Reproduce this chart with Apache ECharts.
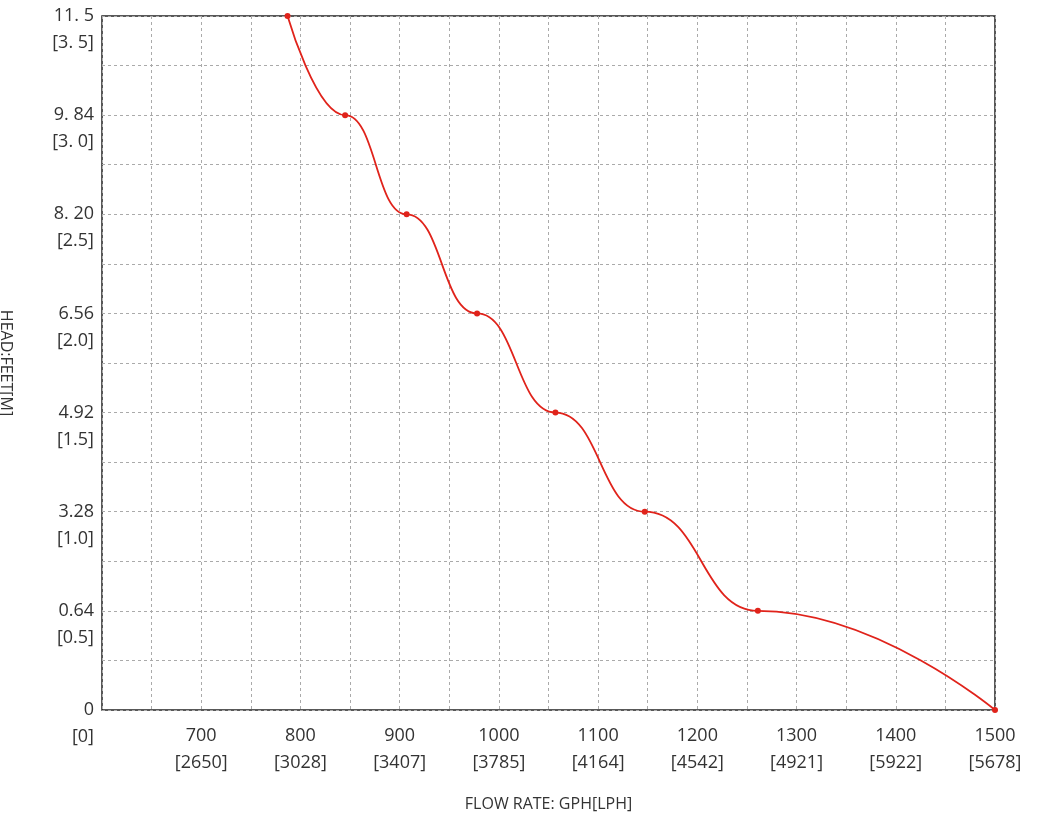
<!DOCTYPE html>
<html><head><meta charset="utf-8">
<script src="https://cdn.jsdelivr.net/npm/echarts@6/dist/echarts.min.js"></script>
<style>html,body{margin:0;padding:0;background:#fff}#c{width:1040px;height:819px}</style>
</head><body><div id="c"></div>
<script>
const flowGPH = [787, 845, 907, 978, 1057, 1147, 1261, 1500];
const headM = [3.5, 3.0, 2.5, 2.0, 1.5, 1.0, 0.5, 0];
const xTickLabels = {700:'700\n[2650]',800:'800\n[3028]',900:'900\n[3407]',1000:'1000\n[3785]',1100:'1100\n[4164]',1200:'1200\n[4542]',1300:'1300\n[4921]',1400:'1400\n[5922]',1500:'1500\n[5678]'};
const yTickLabels = {'0':'0\n[0]','0.5':'0.64\n[0.5]','1':'3.28\n[1.0]','1.5':'4.92\n[1.5]','2':'6.56\n[2.0]','2.5':'8. 20\n[2.5]','3':'9. 84\n[3. 0]','3.5':'11. 5\n[3. 5]'};
const chart = echarts.init(document.getElementById('c'));
const font = '"Open Sans", "Noto Sans", sans-serif';
chart.setOption({
  animation:false,
  grid:{left:102,right:45,top:16,bottom:109,show:true,borderColor:'#222',borderWidth:1.5,containLabel:false,outerBoundsMode:'none'},
  xAxis:{type:'value',min:600,max:1500,interval:50,
    name:'FLOW RATE: GPH[LPH]',nameLocation:'middle',nameGap:86,
    nameTextStyle:{fontFamily:font,fontSize:16,color:'#333'},
    axisLine:{show:false},axisTick:{show:false},
    axisLabel:{fontFamily:font,fontSize:18,color:'#333',lineHeight:27,margin:12,showMinLabel:true,
      formatter:v=>xTickLabels[v]||''},
    splitLine:{show:true,lineStyle:{color:'#aaa',type:[3,3],width:1}}},
  yAxis:{type:'value',min:0,max:3.5,interval:0.25,
    name:'HEAD:FEET[M]',nameLocation:'middle',nameGap:88,nameRotate:-90,
    nameTextStyle:{fontFamily:font,fontSize:16,color:'#333'},
    axisLine:{show:false},axisTick:{show:false},
    axisLabel:{fontFamily:font,fontSize:18,color:'#333',lineHeight:27,margin:8,align:'right',
      formatter:v=>{const s=yTickLabels[String(v)];return s?'\n'+s:'';}},
    splitLine:{show:true,lineStyle:{color:'#aaa',type:[3,3],width:1}}},
  series:[{type:'line',smooth:0.5,smoothMonotone:'x',data:flowGPH.map((x,i)=>[x,headM[i]]),
    symbol:'circle',symbolSize:6,
    lineStyle:{color:'#e0231b',width:1.8},itemStyle:{color:'#e0231b'}}]
});
</script></body></html>
